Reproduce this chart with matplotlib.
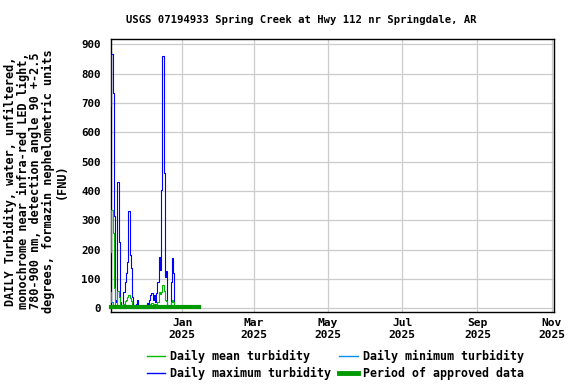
import numpy as np
import pandas as pd
import matplotlib
matplotlib.use("Agg")
import matplotlib.pyplot as plt
import matplotlib.dates as mdates
from matplotlib.lines import Line2D

plt.rcParams['font.family'] = ['DejaVu Sans Mono']
plt.rcParams['font.weight'] = 'bold'

# daily values, starting 2024-11-03
start_date = "2024-11-03"
daily_max = [688, 868, 734, 313, 28, 20, 432, 227, 20, 12,
             10, 55, 91, 120, 159, 330, 182, 136, 40, 10,
             8, 16, 30, 5, 4, 5, 4, 4, 6, 10,
             17, 10, 30, 45, 51, 30, 45, 20, 51, 91,
             176, 132, 404, 861, 461, 106, 126, 11, 6, 8,
             91, 170, 120, 5]
daily_mean = [193, 335, 256, 68, 8, 6, 60, 40, 8, 5,
              5, 15, 25, 30, 40, 45, 35, 25, 10, 5,
              4, 6, 10, 3, 3, 3, 3, 3, 3, 4,
              6, 5, 10, 15, 18, 10, 15, 8, 15, 20,
              55, 50, 55, 80, 60, 30, 25, 5, 3, 3,
              20, 30, 20, 3]
daily_min = [57, 20, 12, 6, 2, 2, 3, 3, 2, 2,
             2, 2, 3, 3, 3, 4, 3, 3, 2, 2,
             2, 2, 2, 2, 2, 2, 2, 2, 2, 2,
             2, 2, 2, 3, 3, 2, 3, 2, 3, 3,
             4, 4, 5, 6, 5, 3, 3, 2, 2, 2,
             3, 3, 3, 2]
approved_period = ["2024-11-03", "2025-01-15"]
approved_level = 3

x_range = ["2024-11-03", "2025-11-03"]
y_range = [-12.6, 917]
y_ticks = [0, 100, 200, 300, 400, 500, 600, 700, 800, 900]
x_ticks = ["2025-01-01", "2025-03-01", "2025-05-01", "2025-07-01", "2025-09-01", "2025-11-01"]

title = "USGS 07194933 Spring Creek at Hwy 112 nr Springdale, AR"
ylabel = ("DAILY Turbidity, water, unfiltered,\n"
          "monochrome near infra-red LED light,\n"
          "780-900 nm, detection angle 90 +-2.5\n"
          "degrees, formazin nephelometric units\n"
          "(FNU)")

dates = pd.date_range(start_date, periods=len(daily_max), freq="D")

fig = plt.figure(figsize=(5.76, 3.84), dpi=100)
ax = fig.add_axes([0.1922, 0.1875, 0.7696, 0.7102])

ax.plot(dates, daily_max, color="#0000ff", lw=0.8, drawstyle="steps-mid", zorder=3)
ax.plot(dates, daily_min, color="#0090ee", lw=0.8, drawstyle="steps-mid", zorder=4)
ax.plot(dates, daily_mean, color="#00bb00", lw=0.8, drawstyle="steps-mid", zorder=5)
ax.plot(pd.to_datetime(approved_period), [approved_level] * 2, color="#009900",
        lw=3.0, solid_capstyle="projecting", zorder=6, clip_on=False)

ax.set_xlim(pd.to_datetime(x_range))
ax.set_ylim(y_range)
ax.set_yticks(y_ticks)
ax.set_xticks(pd.to_datetime(x_ticks))
ax.xaxis.set_major_formatter(mdates.DateFormatter("%b\n%Y"))
ax.tick_params(axis="both", length=0, labelsize=8.1)
ax.tick_params(axis="y", pad=7, labelsize=7.8)
ax.tick_params(axis="x", pad=4.5)
ax.grid(True, color="#cccccc", lw=0.9)
ax.set_axisbelow(True)
for s in ax.spines.values():
    s.set_linewidth(1.0)

fig.text(0.523, 0.948, title, ha="center", va="center", fontsize=7.6)
fig.text(0.062, 0.529, ylabel, ha="center", va="center", rotation=90,
         fontsize=8.6, linespacing=0.95, multialignment="center")

handles = [Line2D([], [], color="#00bb00", lw=1),
           Line2D([], [], color="#0000ff", lw=1),
           Line2D([], [], color="#0090ee", lw=1),
           Line2D([], [], color="#009900", lw=3.5)]
labels = ["Daily mean turbidity", "Daily maximum turbidity",
          "Daily minimum turbidity", "Period of approved data"]
fig.legend(handles, labels, ncol=2, loc="center", bbox_to_anchor=(0.582, 0.05),
           frameon=False, fontsize=8.4, handlelength=1.6, handletextpad=0.4,
           columnspacing=0.7, labelspacing=0.35)

fig.savefig("out.png", dpi=100)
